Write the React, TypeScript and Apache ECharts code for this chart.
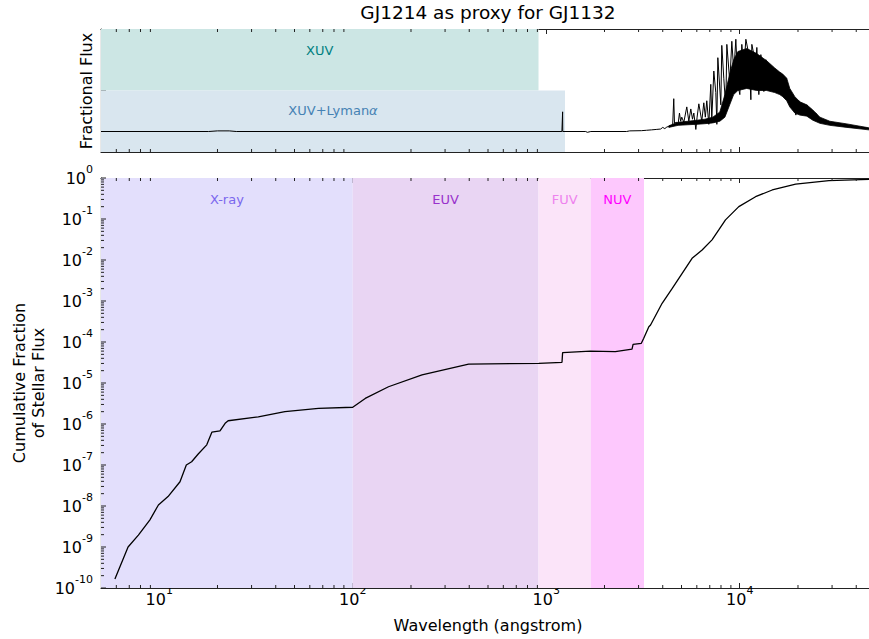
import React, { useEffect, useRef } from 'react';
import * as echarts from 'echarts';

const FONT = 'DejaVu Sans';

// Cumulative fraction of stellar flux (bottom panel)
const cumWave = [5.9, 6.9, 7.8, 8.95, 9.9, 11.1, 12.8, 13.8, 14.7, 15.9, 17.6, 18.7, 20.6, 21.9, 22.7, 32.5, 44.6, 66.5, 100, 116, 153, 228, 397, 915, 1206, 1215, 1690, 2275, 2775, 2810, 3100, 3190, 3390, 3460, 3970, 4470, 5040, 5670, 6390, 7190, 7790, 8440, 9890, 12070, 14720, 19450, 28900, 50000];
const cumFrac = [1.66e-10, 1e-9, 1.95e-9, 4.6e-9, 1.06e-8, 1.7e-8, 3.9e-8, 1e-7, 1.2e-7, 1.85e-7, 3.1e-7, 6.3e-7, 6.8e-7, 1.04e-6, 1.2e-6, 1.5e-6, 2e-6, 2.4e-6, 2.56e-6, 4.2e-6, 8.1e-6, 1.57e-5, 2.9e-5, 3.0e-5, 3.2e-5, 5.5e-5, 6.0e-5, 5.8e-5, 6.7e-5, 8.7e-5, 9.3e-5, 1.23e-4, 2.35e-4, 2.6e-4, 8.8e-4, 2.0e-3, 4.7e-3, 0.011, 0.0175, 0.031, 0.054, 0.095, 0.2, 0.35, 0.51, 0.71, 0.86, 0.94];

// Fractional flux spectrum (top panel), arbitrary linear units
const specWave = [5, 18, 20, 23, 25, 1205, 1213, 1215, 1217, 1600, 1630, 1700, 2600, 2700, 3100, 3300, 3500, 3700, 3900, 4000, 4100, 4200, 4300, 4400, 4500, 4560, 4600, 4700, 4800, 4880, 4950, 5015, 5140, 5325, 5455, 5585, 5700, 5790, 5930, 6020, 6145, 6365, 6520, 6640, 6755, 6920, 7085, 7170, 7345, 7520, 7615, 7705, 7985, 8075, 8270, 8470, 8575, 8885, 9100, 9320, 9545, 9775, 10010, 10250, 10500, 10755, 11145, 11415, 11550, 12110, 12255, 12550, 12855, 13325, 13650, 14145, 14660, 15375, 15930, 16510, 17310, 17940, 18595, 19495, 20205, 20940, 22225, 23295, 24710, 26545, 28880, 32560, 38010, 50000];
const specFlux = [0, 0, 0.03, 0.03, 0, 0, 0, 0.96, 0, 0, -0.04, 0, 0, 0.03, 0.04, 0.06, 0.08, 0.1, 0.12, 0.2, 0.14, 0.22, 0.25, 0.28, 0.3, 1.6, 0.4, 0.45, 0.35, 0.9, 0.5, 0.7, 0.45, 1.2, 0.5, 1.1, 0.6, 0.9, 0.1, 0.7, 1.35, 0.5, 1.4, 0.7, 1.5, 0.35, 2.3, 0.6, 2.95, 1.9, 0.35, 3.6, 1.3, 4.2, 2.6, 1.15, 4.25, 2.4, 4.4, 2.9, 4.5, 2.3, 1.8, 4.25, 3.1, 4.5, 3.75, 1.55, 4.25, 3.25, 4.1, 1.8, 3.75, 1.95, 3.5, 2.1, 3.1, 2.2, 2.9, 1.95, 2.6, 1.4, 1.8, 0.8, 1.5, 0.9, 1.3, 0.75, 0.9, 0.45, 0.45, 0.33, 0.25, 0.1];

// Dense (unresolved) part of the spectrum: lower / upper envelopes
const envWave = [4300, 4800, 5400, 6000, 6600, 7260, 7890, 8380, 8870, 9300, 9780, 10870, 12240, 13780, 15160, 16090, 16680, 17490, 18140, 19260, 20440, 22200, 23860, 25950, 29220, 35810, 46450, 50000];
const envLow = [0.2, 0.3, 0.33, 0.35, 0.38, 0.42, 0.5, 0.7, 1.3, 1.8, 2.0, 2.1, 2.0, 2.0, 1.9, 1.8, 1.7, 1.5, 1.2, 0.9, 0.8, 0.75, 0.55, 0.4, 0.3, 0.2, 0.08, 0.07];
const envHigh = [0.28, 0.45, 0.5, 0.55, 0.6, 0.7, 0.95, 1.8, 2.8, 3.5, 3.9, 4.05, 3.8, 3.45, 3.1, 2.9, 2.8, 2.6, 2.1, 1.7, 1.45, 1.3, 1.05, 0.7, 0.5, 0.37, 0.18, 0.16];

// Wavelength bands
const bandNames = ['X-ray', 'EUV', 'FUV', 'NUV'];
const bandEdges = [5, 100, 912, 1700, 3200];
const bandFill = ['#e3dffc', '#e9d5f3', '#fbe4f9', '#fdc8fd'];
const bandText = ['#7b68ee', '#9932cc', '#ee82ee', '#ff00ff'];

const xuvEdges = [5, 912];
const xuvLyaEdges = [5, 1250];

// Tick positions
const majorYExp = [-10, -9, -8, -7, -6, -5, -4, -3, -2, -1, 0];

const X_MIN = 5;
const X_MAX = 50000;

const powLabel = (v: number) => {
  const e = Math.log10(v);
  const r = Math.round(e);
  if (Math.abs(e - r) > 1e-6) return '';
  return `{b|10}{s|${r}}`;
};

const richPow: any = {
  b: { fontSize: 16, fontFamily: FONT, color: '#000', fill: '#000', lineHeight: 16, verticalAlign: 'bottom' },
  s: { fontSize: 11, fontFamily: FONT, color: '#000', fill: '#000', lineHeight: 11, verticalAlign: 'bottom', padding: [0, 0, 11, 0] },
};

const AX = '#222';

function tickSeries(xi: number, yi: number, vals: number[], dim: 'x' | 'y', ref: number, len: number, withLabel = false) {
  return {
    type: 'custom',
    xAxisIndex: xi,
    yAxisIndex: yi,
    silent: true,
    z: 10,
    clip: false,
    data: vals.map((v) => (dim === 'x' ? [v, ref] : [ref, v])),
    renderItem: (params: any, api: any) => {
      const cs = params.coordSys;
      const p = api.coord([api.value(0), api.value(1)]);
      const style = { stroke: AX, lineWidth: 1 };
      if (dim === 'x') {
        return {
          type: 'group',
          children: [
            { type: 'line', shape: { x1: p[0], y1: cs.y + cs.height, x2: p[0], y2: cs.y + cs.height - len }, style },
            { type: 'line', shape: { x1: p[0], y1: cs.y, x2: p[0], y2: cs.y + len }, style },
          ],
        };
      }
      const children: any[] = [{ type: 'line', shape: { x1: cs.x, y1: p[1], x2: cs.x + len, y2: p[1] }, style }];
      if (withLabel) {
        children.push({
          type: 'text',
          x: cs.x - 8,
          y: p[1],
          style: {
            text: powLabel(api.value(1)),
            rich: richPow,
            align: 'right',
            verticalAlign: 'middle',
            fontFamily: FONT,
            fontSize: 16,
            fill: '#000',
          },
        });
      }
      return { type: 'group', children };
    },
  };
}

export default function App() {
  const ref = useRef<HTMLDivElement>(null);
  useEffect(() => {
    if (!ref.current) return;
    const chart = echarts.init(ref.current, undefined, { renderer: 'svg' });

    const minorX: number[] = [];
    for (let n = 0; n <= 4; n++) for (let k = 2; k <= 9; k++) {
      const v = k * Math.pow(10, n);
      if (v > X_MIN && v < X_MAX) minorX.push(v);
    }
    const minorY: number[] = [];
    for (let n = -10; n <= -1; n++) for (let k = 2; k <= 9; k++) minorY.push(k * Math.pow(10, n));
    const majorY = majorYExp.map((e) => Math.pow(10, e));

    const xBase = (gridIndex: number, position: 'top' | 'bottom', showLabel: boolean) => ({
      type: 'log',
      logBase: 10,
      gridIndex,
      position,
      min: X_MIN,
      max: X_MAX,
      splitNumber: 4,
      axisLine: { show: true, onZero: false, lineStyle: { color: AX, width: 1.2 } },
      axisTick: { show: true, inside: true, length: 5, lineStyle: { color: AX, width: 1 } },
      axisLabel: showLabel
        ? { show: true, formatter: powLabel, rich: richPow, margin: 3, fontFamily: FONT }
        : { show: false },
      splitLine: { show: false },
      minorTick: { show: false },
    });

    const bottomMarks = bandNames.map((name, i) => [
      {
        name,
        xAxis: bandEdges[i],
        itemStyle: { color: bandFill[i], opacity: 1 },
        label: { color: bandText[i] },
      },
      { xAxis: bandEdges[i + 1] },
    ]);

    const option: any = {
      animation: false,
      grid: [
        { left: 101, top: 29, width: 774, height: 123, outerBoundsMode: 'none' },
        { left: 101, top: 178, width: 774, height: 410, outerBoundsMode: 'none' },
      ],
      xAxis: [
        xBase(0, 'bottom', false),
        xBase(0, 'top', false),
        xBase(1, 'bottom', true),
        xBase(1, 'top', false),
      ],
      yAxis: [
        {
          type: 'value',
          gridIndex: 0,
          min: -1,
          max: 5,
          interval: 1,
          axisLine: { show: true, onZero: false, lineStyle: { color: AX, width: 1.2 } },
          axisTick: { show: true, inside: true, length: 5, lineStyle: { color: AX, width: 1 } },
          axisLabel: { show: false },
          splitLine: { show: false },
        },
        {
          type: 'log',
          logBase: 10,
          gridIndex: 1,
          min: 1e-10,
          max: 1,
          axisLine: { show: true, onZero: false, lineStyle: { color: AX, width: 1.2 } },
          axisTick: { show: false },
          axisLabel: { show: false },
          splitLine: { show: false },
        },
      ],
      graphic: [
        {
          type: 'text', x: 488, y: 12,
          style: { text: 'GJ1214 as proxy for GJ1132', font: `18.5px "${FONT}"`, fill: '#000', align: 'center', verticalAlign: 'middle' },
        },
        {
          type: 'text', x: 86.5, y: 91, rotation: Math.PI / 2,
          style: { text: 'Fractional Flux', font: `16px "${FONT}"`, fill: '#000', align: 'center', verticalAlign: 'middle' },
        },
        {
          type: 'text', x: 29, y: 383, rotation: Math.PI / 2,
          style: { text: 'Cumulative Fraction\nof Stellar Flux', font: `16px "${FONT}"`, fill: '#000', align: 'center', verticalAlign: 'middle', lineHeight: 19.5 },
        },
        {
          type: 'text', x: 488, y: 625,
          style: { text: 'Wavelength (angstrom)', font: `16px "${FONT}"`, fill: '#000', align: 'center', verticalAlign: 'middle' },
        },
      ],
      series: [
        {
          type: 'line',
          name: 'spectrum',
          xAxisIndex: 0,
          yAxisIndex: 0,
          data: specWave.map((w, i) => [w, specFlux[i]]),
          showSymbol: false,
          silent: true,
          z: 5,
          lineStyle: { color: '#000', width: 1 },
          markArea: {
            silent: true,
            label: { position: 'insideTop', distance: 14, fontSize: 13, fontFamily: FONT },
            data: [
              [
                { name: 'XUV', xAxis: xuvEdges[0], yAxis: 2, itemStyle: { color: '#cce6e4', opacity: 1 }, label: { color: '#008080', distance: 15 } },
                { xAxis: xuvEdges[1], yAxis: 5 },
              ],
              [
                {
                  name: 'XUV+Lyman',
                  xAxis: xuvLyaEdges[0],
                  yAxis: -1,
                  itemStyle: { color: '#d9e6ef', opacity: 1 },
                  label: {
                    color: '#4682b4',
                    distance: 13,
                    formatter: '{n|XUV+Lyman}{a|α}',
                    rich: {
                      n: { fontSize: 13, fontFamily: FONT, color: '#4682b4' },
                      a: { fontSize: 13, fontFamily: FONT, color: '#4682b4', fontStyle: 'italic' },
                    },
                  },
                },
                { xAxis: xuvLyaEdges[1], yAxis: 2 },
              ],
            ],
          },
        },
        {
          type: 'custom',
          xAxisIndex: 0,
          yAxisIndex: 0,
          silent: true,
          z: 4,
          clip: true,
          data: [[envWave[0], envLow[0]]],
          renderItem: (params: any, api: any) => {
            const pts: number[][] = [];
            for (let i = 0; i < envWave.length; i++) pts.push(api.coord([envWave[i], envHigh[i]]));
            for (let i = envWave.length - 1; i >= 0; i--) pts.push(api.coord([envWave[i], envLow[i]]));
            return { type: 'polygon', shape: { points: pts }, style: { fill: '#000', stroke: '#000', lineWidth: 0.8 } };
          },
        },
        {
          type: 'line',
          name: 'cumulative',
          xAxisIndex: 2,
          yAxisIndex: 1,
          data: cumWave.map((w, i) => [w, cumFrac[i]]),
          showSymbol: false,
          silent: true,
          z: 5,
          lineStyle: { color: '#000', width: 1.3 },
          markArea: {
            silent: true,
            label: { position: 'insideTop', distance: 15, fontSize: 13, fontFamily: FONT },
            data: bottomMarks,
          },
        },
        tickSeries(0, 0, minorX, 'x', 0, 3),
        tickSeries(2, 1, minorX, 'x', 1e-5, 3),
        tickSeries(2, 1, minorY, 'y', 10, 3),
        tickSeries(2, 1, majorY, 'y', 10, 5, true),
      ],
    };
    chart.setOption(option);
    return () => chart.dispose();
  }, []);
  return <div ref={ref} style={{ position: 'absolute', left: 0, top: 0, width: 869, height: 639 }} />;
}
